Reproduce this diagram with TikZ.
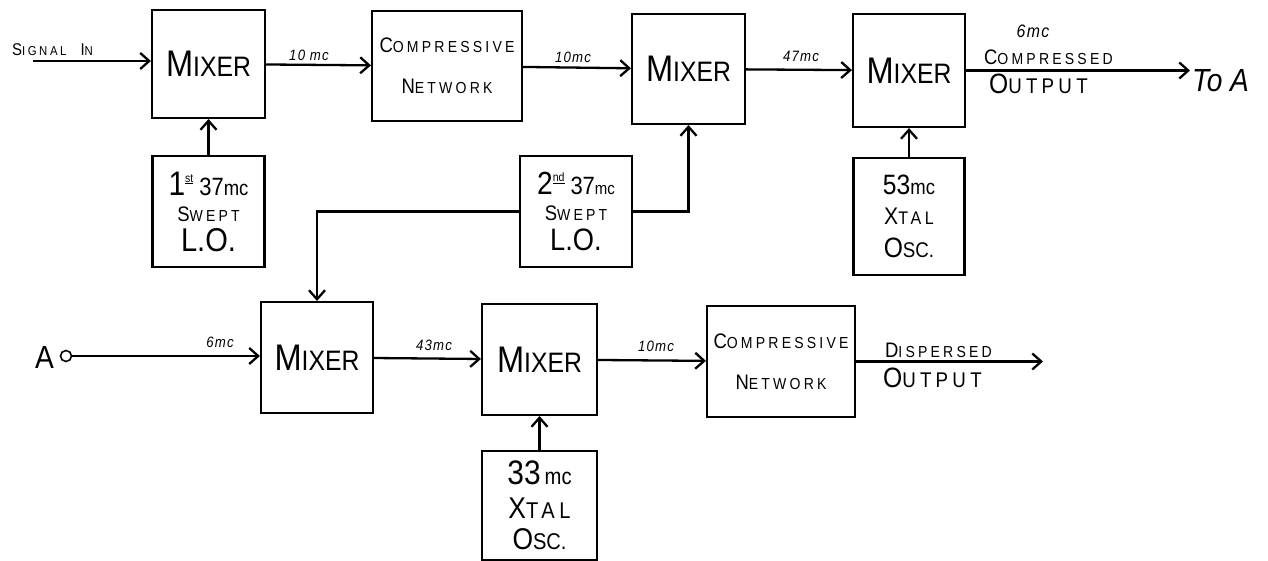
\documentclass[tikz,border=0pt]{standalone}
\usepackage{fontspec}
\setmainfont{Liberation Sans}[FakeStretch=0.88]
\usetikzlibrary{arrows.meta}
\newcommand\hcap[2]{#1\scalebox{0.76}{#2}}
\newcommand\fs[1]{\fontsize{#1}{#1}\selectfont}
\newcommand\wide{\addfontfeature{LetterSpace=20}}
\begin{document}
\begin{tikzpicture}[x=1pt, y=-1pt, line width=2.2pt,
  every node/.style={inner sep=1pt},
  blk/.style 2 args={draw, line width=2.1pt, align=center, minimum width=#1pt, minimum height=#2pt},
  mixtxt/.style={font=\fs{37}},
  nettxt/.style={font=\fontsize{21}{41}\selectfont\wide},
  lab/.style={font=\fs{15}\itshape\addfontfeature{LetterSpace=8}},
  arr/.style={-{Straight Barb[length=9pt, width=16pt]}, line width=2.3pt}]
  \useasboundingbox (0,0) rectangle (1268,561);
  % upper chain
  \node[blk={113}{108}, mixtxt] (mixa) at (208.5,64) {\hcap{M}{IXER}};
  \node[blk={150}{110}, nettxt] (neta) at (447,66) {\hcap{C}{OMPRESSIVE}\\\hcap{N}{ETWORK}};
  \node[blk={113}{110}, mixtxt] (mixb) at (688.5,69) {\hcap{M}{IXER}};
  \node[blk={112}{113}, mixtxt] (mixc) at (909,70.5) {\hcap{M}{IXER}};
  \node[blk={112}{111}, font=\fontsize{21}{24}\selectfont] (loa) at (208.5,211.5)
    {{\fs{34}1}\raisebox{13pt}{\fs{12}\underline{st}}\hspace{6pt}{\fs{25}37}{\fs{21}mc}\\[2pt]{\wide\hcap{S}{WEPT}}\\[6pt]{\fs{33}L.O.}};
  \node[blk={112}{111}, font=\fontsize{21}{24}\selectfont] (lob) at (576,211.5)
    {{\fs{32}2}\raisebox{13pt}{\fs{12}\underline{nd}}\hspace{6pt}{\fs{25}37}{\fs{17}mc}\\[2pt]{\wide\hcap{S}{WEPT}}\\[6pt]{\fs{31}L.O.}};
  \node[blk={111}{117}, font=\fontsize{24}{30}\selectfont] (xoa) at (909,216.5)
    {{\fs{28}53}{\fs{21}mc}\\{\wide\hcap{X}{TAL}}\\[3pt]{\fs{28}\hcap{O}{SC.}}};
  \coordinate (sigin) at (33,61);
  \node[anchor=south west, font=\fs{17}\wide] (siglab) at (10,58) {\hcap{S}{IGNAL}\hspace{14pt}\hcap{I}{N}};
  \draw[arr] (sigin) -- (sigin -| mixa.west);
  \draw[arr] (mixa) -- (neta);
  \draw[arr] (neta) -- (mixb);
  \draw[arr] (mixb) -- (mixc);
  \draw[arr] (loa) -- (mixa);
  \draw[arr] (xoa) -- (mixc);
  \draw[arr] (lob.east) -| (mixb.south);
  \node[lab] (fa) at (309,55) {10 mc};
  \node[lab] (fb) at (573,57) {10mc};
  \node[lab] (fc) at (801,56) {47mc};
  \node[anchor=west, font=\fs{32}\itshape] (toa) at (1190,81) {To A};
  \draw[arr] (mixc.east) -- (mixc.east -| toa.west);
  \node[font=\fs{18}\itshape\addfontfeature{LetterSpace=8}] (fd) at (1033,31) {6mc};
  \node[anchor=south west, font=\fs{21}\wide] (cmp) at (982,67) {\hcap{C}{OMPRESSED}};
  \node[anchor=north west, font=\fs{28}\wide] (cout) at (987,72) {\hcap{O}{UTPUT}};
  % lower chain
  \node[blk={112}{111}, mixtxt] (mixd) at (317,357.5) {\hcap{M}{IXER}};
  \node[blk={115}{111}, mixtxt] (mixe) at (539.5,359.5) {\hcap{M}{IXER}};
  \node[blk={148}{111}, nettxt] (netb) at (781,361.5) {\hcap{C}{OMPRESSIVE}\\\hcap{N}{ETWORK}};
  \node[blk={115}{109}, font=\fontsize{30}{34}\selectfont] (xob) at (539.5,505.5)
    {{\fs{34}33}\hspace{4pt}{\fs{23}mc}\\{\wide\hcap{X}{TAL}}\\[-3pt]\hcap{O}{SC.}};
  \node[circle, draw, line width=1.6pt, minimum size=11pt, inner sep=0pt] (ain) at (66,356) {};
  \node[anchor=east, font=\fs{32}] (alab) at (56,357) {A};
  \draw[arr] (ain) -- (ain -| mixd.west);
  \draw[arr] (mixd) -- (mixe);
  \draw[arr] (mixe) -- (netb);
  \draw[arr] (xob) -- (mixe);
  \draw[arr] (lob.west) -| (mixd.north);
  \node[lab] (fe) at (220,342) {6mc};
  \node[lab] (ff) at (434,345) {43mc};
  \node[lab] (fg) at (656,346) {10mc};
  \coordinate (dout) at (1043,361);
  \draw[arr] (netb.east) -- (netb.east -| dout);
  \node[anchor=south west, font=\fs{21}\wide] (disp) at (883,360) {\hcap{D}{ISPERSED}};
  \node[anchor=north west, font=\fs{28}\wide] (dout2) at (881,366) {\hcap{O}{UTPUT}};
\end{tikzpicture}
\end{document}
